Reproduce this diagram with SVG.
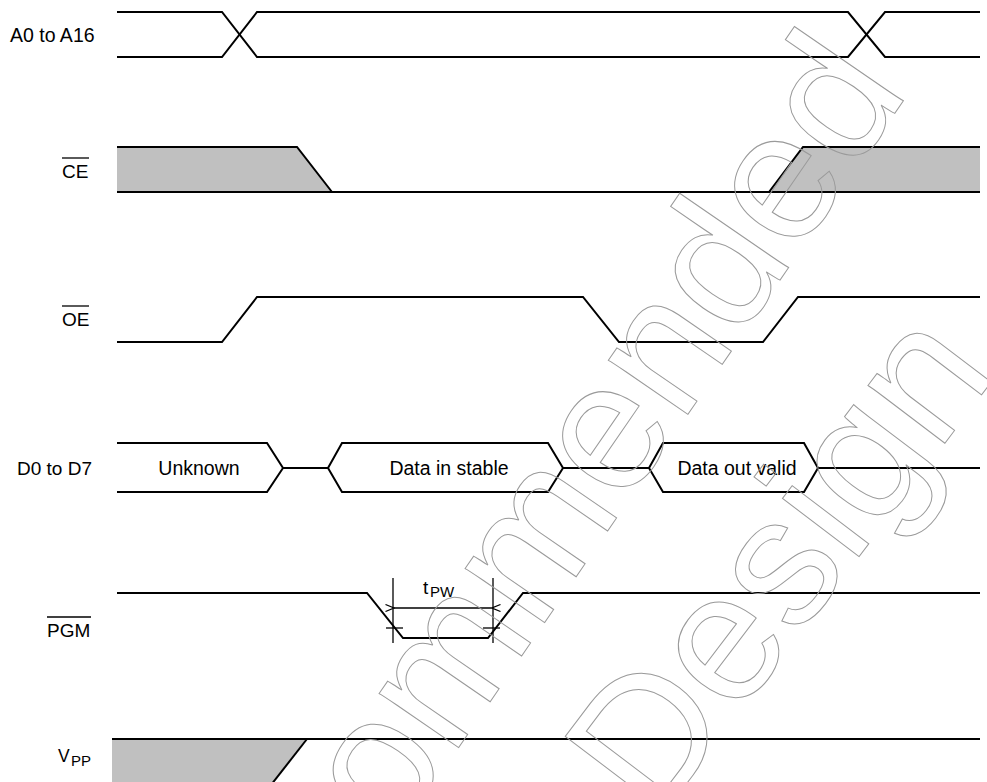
<svg xmlns="http://www.w3.org/2000/svg" width="987" height="782" viewBox="0 0 987 782">
<style>
  .sig { fill: none; stroke: #000; stroke-width: 2; stroke-linejoin: miter; }
  .shade { fill: #c0c0c0; stroke: none; }
  .lbl { font-family: "Liberation Sans", Arial, sans-serif; font-size: 19px; fill: #000; }
  .bus { font-family: "Liberation Sans", Arial, sans-serif; font-size: 19.5px; fill: #000; text-anchor: middle; }
  .sub { font-family: "Liberation Sans", Arial, sans-serif; font-size: 15px; fill: #000; }
  .ovl { stroke: #000; stroke-width: 1.3; }
  .dim { fill: none; stroke: #000; stroke-width: 1.3; }
  .wm { font-family: "Liberation Sans", Arial, sans-serif; font-size: 182px; fill: none; stroke: #9a9a9a; stroke-width: 1; }
</style>
<defs>
  <marker id="arr" viewBox="0 0 10 8" refX="0.5" refY="4" markerWidth="10" markerHeight="8" markerUnits="userSpaceOnUse" orient="auto-start-reverse">
    <path d="M9,0.5 L0.5,4 L9,7.5" fill="none" stroke="#000" stroke-width="1.2"/>
  </marker>
</defs>
<rect width="987" height="782" fill="#fff"/>

<g id="labels">
  <text class="lbl" x="10" y="42" style="font-size:19.5px">A0 to A16</text>
  <text class="lbl" x="62" y="178">CE</text>
  <line class="ovl" x1="62" y1="158" x2="89" y2="158"/>
  <text class="lbl" x="62" y="326">OE</text>
  <line class="ovl" x1="62" y1="306" x2="89" y2="306"/>
  <text class="lbl" x="17" y="475">D0 to D7</text>
  <text class="lbl" x="47" y="637">PGM</text>
  <line class="ovl" x1="47" y1="617" x2="91" y2="617"/>
  <text class="lbl" x="58" y="762" style="font-size:17.5px">V</text>
  <text class="sub" x="71" y="766">PP</text>
</g>

<g id="connectors">
  <g id="addr">
    <polyline class="sig" points="117,12 222,12 257,57 848,57 885,12 980,12"/>
    <polyline class="sig" points="117,57 222,57 257,12 848,12 885,57 980,57"/>
  </g>
  <g id="ce">
    <polygon class="shade" points="117,147 297,147 332,192 117,192"/>
    <polygon class="shade" points="769,192 803,147 980,147 980,192"/>
    <polyline class="sig" points="117,147 297,147 332,192"/>
    <line class="sig" x1="117" y1="192" x2="980" y2="192"/>
    <polyline class="sig" points="769,192 803,147 980,147"/>
  </g>
  <g id="oe">
    <polyline class="sig" points="117,342 222,342 257,297 583,297 619,342 763,342 798,297 980,297"/>
  </g>
  <g id="data">
    <polyline class="sig" points="117,443 267,443 283,468 267,492 117,492"/>
    <line class="sig" x1="283" y1="468" x2="328" y2="468"/>
    <polygon class="sig" points="328,468 342,443 548,443 563,468 548,492 342,492"/>
    <line class="sig" x1="563" y1="468" x2="649" y2="468"/>
    <polygon class="sig" points="649,468 663,443 804,443 818,468 804,492 663,492"/>
    <line class="sig" x1="818" y1="468" x2="980" y2="468"/>
    <text class="bus" x="199" y="475">Unknown</text>
    <text class="bus" x="449" y="475">Data in stable</text>
    <text class="bus" x="737" y="475">Data out valid</text>
  </g>
  <g id="pgm">
    <polyline class="sig" points="117,593 367,593 403,638 488,638 523,593 980,593"/>
    <line class="dim" x1="393" y1="578" x2="393" y2="643"/>
    <line class="dim" x1="493" y1="578" x2="493" y2="643"/>
    <line class="dim" x1="394" y1="608" x2="492" y2="608" marker-start="url(#arr)" marker-end="url(#arr)"/>
    <line class="dim" x1="386" y1="628" x2="403" y2="628"/>
    <line class="dim" x1="483" y1="628" x2="500" y2="628"/>
    <text class="lbl" x="423" y="594">t</text>
    <text class="sub" x="430" y="597">PW</text>
  </g>
  <g id="vpp">
    <polygon class="shade" points="112,739 307,739 271,785 112,785"/>
    <line class="sig" x1="112" y1="739" x2="980" y2="739"/>
    <line class="sig" x1="307" y1="739" x2="271" y2="785"/>
  </g>
</g>

<g id="watermark">
  <text class="wm" transform="translate(910,91) rotate(-55.5)" text-anchor="end">Recommended</text>
  <text class="wm" transform="translate(656,824) rotate(-52.8)">Design</text>
</g>
</svg>
